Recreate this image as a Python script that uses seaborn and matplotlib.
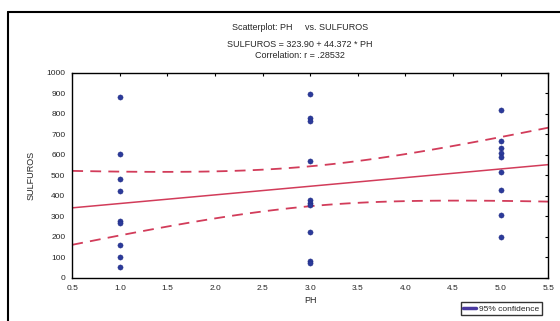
import numpy as np
import pandas as pd
import matplotlib
matplotlib.use("Agg")
import matplotlib.pyplot as plt
import seaborn as sns
from matplotlib.lines import Line2D

# 데이터
ph_1 = [1.0] * 9
sulf_1 = [883, 603, 484, 426, 276, 268, 159, 102, 55]
ph_3 = [3.0] * 10
sulf_3 = [899, 780, 764, 569, 382, 366, 354, 224, 84, 73]
ph_5 = [5.0] * 9
sulf_5 = [818, 670, 632, 610, 590, 515, 429, 307, 201]

x_ticks = [0.5, 1.0, 1.5, 2.0, 2.5, 3.0, 3.5, 4.0, 4.5, 5.0, 5.5]
y_ticks = list(range(0, 1001, 100))

df = pd.DataFrame({"PH": ph_1 + ph_3 + ph_5, "SULFUROS": sulf_1 + sulf_3 + sulf_5})

sns.set_style("white")
plt.rcParams["font.family"] = ["Liberation Sans", "DejaVu Sans"]

fig = plt.figure(figsize=(5.6, 3.21), dpi=100)
ax = fig.add_axes([0.129, 0.134, 0.850, 0.639])

# 회귀선 + 95% 신뢰구간 (평균)
x = df["PH"].values
y = df["SULFUROS"].values
n = len(x)
b1, b0 = np.polyfit(x, y, 1)
resid = y - (b0 + b1 * x)
s = np.sqrt(np.sum(resid ** 2) / (n - 2))
sxx = np.sum((x - x.mean()) ** 2)
t = 2.056  # t(0.975, df=26)
xs = np.linspace(0.5, 5.5, 100)
fit = b0 + b1 * xs
hw = t * s * np.sqrt(1 / n + (xs - x.mean()) ** 2 / sxx)

red = "#d23c5a"
ax.plot(xs, fit, color=red, lw=1.1)
ax.plot(xs, fit + hw, color=red, lw=1.3, ls=(0, (6, 4)))
ax.plot(xs, fit - hw, color=red, lw=1.3, ls=(0, (6, 4)))

sns.scatterplot(data=df, x="PH", y="SULFUROS", ax=ax, color="#2b3a9a",
                s=14, edgecolor="#1f2a80", linewidth=0.3, zorder=3)

ax.set_xlim(0.5, 5.5)
ax.set_ylim(0, 1000)
ax.set_xticks(x_ticks)
ax.set_xticklabels([f"{v:.1f}" for v in x_ticks])
ax.set_yticks(y_ticks)
ax.tick_params(direction="in", length=2, labelsize=6, top=True, right=True,
               labeltop=False, labelright=False, color="black", pad=5)
for sp in ax.spines.values():
    sp.set_color("black")
    sp.set_linewidth(1.0)
ax.set_xlabel("PH", fontsize=6.5, labelpad=3)
ax.set_ylabel("SULFUROS", fontsize=6.5, labelpad=8)

fig.text(0.535, 0.905, "Scatterplot: PH     vs. SULFUROS", ha="center", fontsize=6.5)
fig.text(0.535, 0.855, "SULFUROS = 323.90 + 44.372 * PH", ha="center", fontsize=6.5)
fig.text(0.535, 0.818, "Correlation: r = .28532", ha="center", fontsize=6.5)

# 바깥 테두리
fig.add_artist(Line2D([0.014, 1.0], [0.962, 0.962], color="black", lw=1.5))
fig.add_artist(Line2D([0.014, 0.014], [0.0, 0.962], color="black", lw=1.5))

handle = Line2D([], [], color="#4a3aa0", lw=2.5)
fig.legend([handle], ["95% confidence"], loc="lower right",
           bbox_to_anchor=(0.975, 0.005), fontsize=6, frameon=True,
           fancybox=False, edgecolor="black", handlelength=1.5,
           borderpad=0.3, handletextpad=0.4)

fig.savefig("out.png", dpi=100)
